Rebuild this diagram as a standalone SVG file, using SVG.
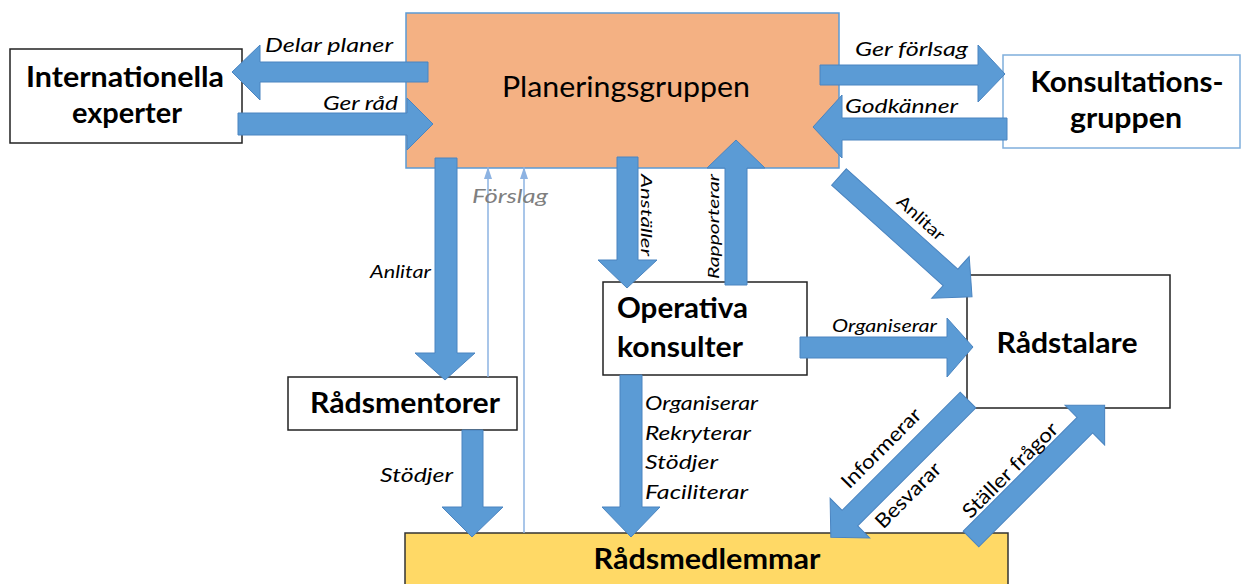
<svg xmlns="http://www.w3.org/2000/svg" width="1244" height="584" viewBox="0 0 1244 584">
<style>
.box{fill:#fff;stroke:#222;stroke-width:1.5}
.arr{fill:#5B9BD5;stroke:#4A84C0;stroke-width:1}
.nt{font-family:Lato,"Liberation Sans",sans-serif;font-weight:bold;font-size:28px;fill:#000}
.lb{font-family:Lato,"Liberation Sans",sans-serif;font-style:italic;font-size:19px;fill:#000}
.dl{font-family:Lato,"Liberation Sans",sans-serif;font-size:20px;fill:#000}
.thin{stroke:#8DB3E2;stroke-width:1.5;fill:none}
</style>
<defs>
<marker id="th" viewBox="0 0 8 12" refX="4" refY="0" markerWidth="8" markerHeight="12" markerUnits="userSpaceOnUse" orient="0">
<polygon points="0,12 4,0 8,12" fill="#8DB3E2"/>
</marker>
</defs>

<g id="planeringsgruppen">
<rect x="406" y="13" width="433" height="155" fill="#F4B183" stroke="#5B9BD5" stroke-width="1.5"/>
<text x="626" y="97" text-anchor="middle" style="font-family:Lato,'Liberation Sans',sans-serif;font-size:29px" textLength="248" lengthAdjust="spacingAndGlyphs">Planeringsgruppen</text>
</g>
<g id="internationella">
<rect class="box" x="10" y="49" width="232" height="94"/>
<text class="nt" x="125" y="87" text-anchor="middle" textLength="198" lengthAdjust="spacingAndGlyphs">Internationella</text>
<text class="nt" x="127" y="123" text-anchor="middle" textLength="110" lengthAdjust="spacingAndGlyphs">experter</text>
</g>
<g id="konsultationsgruppen">
<rect x="1003" y="55" width="237" height="93" fill="#fff" stroke="#7FAEDC" stroke-width="1.5"/>
<text class="nt" x="1127" y="92" text-anchor="middle" textLength="193" lengthAdjust="spacingAndGlyphs">Konsultations-</text>
<text class="nt" x="1126" y="128" text-anchor="middle" textLength="112" lengthAdjust="spacingAndGlyphs">gruppen</text>
</g>
<g id="operativa">
<rect class="box" x="603" y="282" width="204" height="93"/>
<text class="nt" x="617" y="318" textLength="131" lengthAdjust="spacingAndGlyphs">Operativa</text>
<text class="nt" x="617" y="357" textLength="126" lengthAdjust="spacingAndGlyphs">konsulter</text>
</g>
<g id="radstalare">
<rect class="box" x="967" y="275" width="203" height="133"/>
<text class="nt" x="1067" y="353" text-anchor="middle" textLength="141" lengthAdjust="spacingAndGlyphs">Rådstalare</text>
</g>
<g id="radsmentorer">
<rect class="box" x="288" y="377" width="229" height="53"/>
<text class="nt" x="405" y="413" text-anchor="middle" textLength="190" lengthAdjust="spacingAndGlyphs">Rådsmentorer</text>
</g>
<g id="radsmedlemmar">
<rect x="405" y="533" width="603" height="60" fill="#FFD966" stroke="#333" stroke-width="1.5"/>
<text class="nt" x="707" y="569" text-anchor="middle" textLength="227" lengthAdjust="spacingAndGlyphs">Rådsmedlemmar</text>
</g>

<g id="connectors">
<line class="thin" x1="488" y1="377" x2="488" y2="167" marker-end="url(#th)"/>
<line class="thin" x1="524" y1="533" x2="524" y2="167" marker-end="url(#th)"/>
<polygon class="arr" points="428,62 260,62 260,45 232,72 260,100 260,82 428,82"/>
<polygon class="arr" points="238,113 407,113 407,98 433,124 407,150 407,135 238,135"/>
<polygon class="arr" points="820,65 978,65 978,45 1005,74 978,102 978,85 820,85"/>
<polygon class="arr" points="1007,118 842,118 842,95 813,127 842,158 842,140 1007,140"/>
<polygon class="arr" points="435,158 435,353 415,353 445,380 475,353 457,353 457,158"/>
<polygon class="arr" points="617,157 617,260 598,260 627,288 657,260 638,260 638,157"/>
<polygon class="arr" points="725,285 725,168 707,168 736,140 765,168 747,168 747,285"/>
<polygon class="arr" points="800,337 947,337 947,318 973,347 947,377 947,358 800,358"/>
<polygon class="arr" points="462,430 462,507 442,507 472,537 503,507 483,507 483,430"/>
<polygon class="arr" points="620,375 620,507 602,507 631,537 660,507 642,507 642,375"/>
<polygon class="arr" transform="translate(839,177) rotate(42)" points="0,-11 150,-11 150,-28 179,0 150,28 150,11 0,11"/>
<polygon class="arr" transform="translate(968,400) rotate(135)" points="0,-11 167,-11 167,-28 194,0 167,28 167,11 0,11"/>
<polygon class="arr" transform="translate(971,539) rotate(-45)" points="0,-11 161,-11 161,-28 189,0 161,28 161,11 0,11"/>

<text class="lb" x="265" y="52" textLength="128" lengthAdjust="spacingAndGlyphs">Delar planer</text>
<text class="lb" x="323" y="110" textLength="75" lengthAdjust="spacingAndGlyphs">Ger råd</text>
<text class="lb" x="855" y="56" textLength="113" lengthAdjust="spacingAndGlyphs">Ger förlsag</text>
<text class="lb" x="845" y="113" textLength="113" lengthAdjust="spacingAndGlyphs">Godkänner</text>
<text class="lb" x="472" y="203" style="fill:#7F7F7F" textLength="76" lengthAdjust="spacingAndGlyphs">Förslag</text>
<text class="lb" x="370" y="278" style="font-size:17px" textLength="61" lengthAdjust="spacingAndGlyphs">Anlitar</text>
<text class="lb" transform="translate(641,174) rotate(90)" style="font-size:16px" textLength="82" lengthAdjust="spacingAndGlyphs">Anställer</text>
<text class="lb" transform="translate(719,279) rotate(-90)" style="font-size:15px" textLength="105" lengthAdjust="spacingAndGlyphs">Rapporterar</text>
<text class="lb" x="832" y="332" style="font-size:17px" textLength="105" lengthAdjust="spacingAndGlyphs">Organiserar</text>
<text class="lb" x="645" y="410" textLength="113" lengthAdjust="spacingAndGlyphs">Organiserar</text>
<text class="lb" x="645" y="440" textLength="106" lengthAdjust="spacingAndGlyphs">Rekryterar</text>
<text class="lb" x="645" y="469" textLength="73" lengthAdjust="spacingAndGlyphs">Stödjer</text>
<text class="lb" x="645" y="499" textLength="103" lengthAdjust="spacingAndGlyphs">Faciliterar</text>
<text class="lb" x="380" y="482" textLength="73" lengthAdjust="spacingAndGlyphs">Stödjer</text>
<text class="dl" transform="translate(921,218) rotate(42)" text-anchor="middle" dy="6" style="font-size:17px" textLength="58" lengthAdjust="spacingAndGlyphs">Anlitar</text>
<text class="dl" transform="translate(881,448) rotate(-45)" text-anchor="middle" dy="7" textLength="104" lengthAdjust="spacingAndGlyphs">Informerar</text>
<text class="dl" transform="translate(908,495) rotate(-45)" text-anchor="middle" dy="7" textLength="84" lengthAdjust="spacingAndGlyphs">Besvarar</text>
<text class="dl" transform="translate(1010,470) rotate(-45)" text-anchor="middle" dy="7" textLength="126" lengthAdjust="spacingAndGlyphs">Ställer frågor</text>
</g>
</svg>
